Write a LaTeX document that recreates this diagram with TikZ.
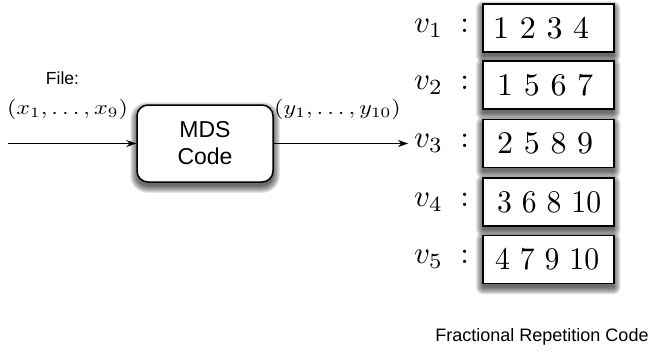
\documentclass[tikz,border=0pt]{standalone}
\usepackage{fontspec}
\usepackage{graphicx}
\newfontfamily\arialfont{Liberation Sans}
\usetikzlibrary{arrows.meta,backgrounds}
\begin{document}
\begin{tikzpicture}[x=1pt,y=-1pt,
  arr/.style={-{Stealth[length=10pt,width=7pt]}, line width=1pt},
  sftext/.style={font=\arialfont\fontsize{#1}{#1}\selectfont, inner sep=0pt},
  plain/.style={inner sep=0pt},
  shadlayer/.style={fill=black, opacity=0.1},
  mdsbox/.style={draw, line width=1.5pt, rounded corners=11pt, fill=white,
    minimum width=136pt, minimum height=77pt, align=center, inner sep=0pt,
    font=\arialfont\fontsize{23}{27}\selectfont},
  cellbox/.style={draw, line width=1.5pt, fill=white, anchor=west,
    minimum height=48pt, minimum width=131pt, inner sep=0pt}
]
\useasboundingbox (0,0) rectangle (652,354);
\node[sftext=17.5] (file) at (62.5,78) {File:};
\node[plain] (xin) at (67.5,109) {\scalebox{2.4}[2.05]{$(x_1,\ldots,x_9)$}};
\node[plain] (yout) at (337.5,109) {\scalebox{2.4}[2.05]{$(y_1,\ldots,y_{10})$}};
\node[mdsbox] (mds) at (205,143.5) {MDS\\Code};
\coordinate (in) at (8,143.5);
\coordinate (tip) at (408,143.5);
\draw[arr] (in) -- (mds.west);
\draw[arr] (mds.east) -- (tip);
\foreach \i/\y/\t/\dx/\sx in {1/28/{1 2 3 4}/11/3.2,2/85/{1 5 6 7}/15/3.2,3/143.5/{2 5 8 9}/15/3.2,4/202/{3 6 8 10}/15/2.97,5/259.5/{4 7 9 10}/13/2.97}{
  \node[plain, anchor=west] (l\i) at (414,\y) {\scalebox{3.1}{$v_\i\;:$}};
  \node[cellbox] (b\i) at (482,\y) {};
  \node[plain, anchor=west] (t\i) at ([xshift=\dx pt]b\i.west) {\scalebox{\sx}[3.15]{\t}};
}
\node[sftext=18] (title) at (542,337) {Fractional Repetition Code};
\begin{scope}[on background layer]
  \foreach \k in {-1,0,1,2,3,4,5,6}{
    \fill[shadlayer, rounded corners=11pt+\k pt] ([shift={(-\k,4-\k)}]mds.north west) rectangle ([shift={(\k,4+\k)}]mds.south east);
    \foreach \i in {1,...,5}{
      \fill[shadlayer, rounded corners=\k pt+1pt] ([shift={(-\k,4-\k)}]b\i.north west) rectangle ([shift={(\k,4+\k)}]b\i.south east);
    }
  }
\end{scope}
\end{tikzpicture}
\end{document}
